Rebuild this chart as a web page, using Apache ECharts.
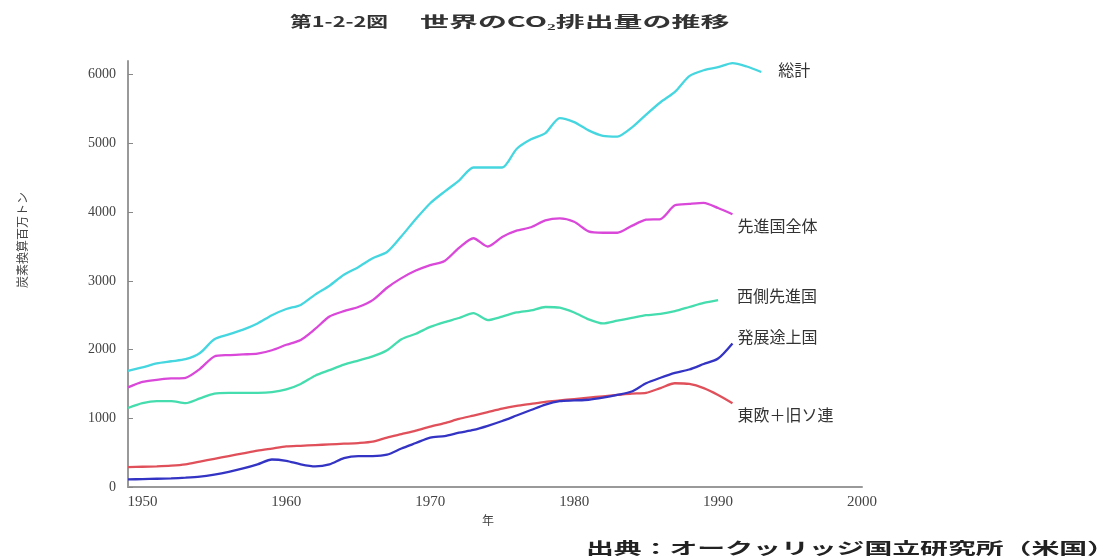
<!DOCTYPE html>
<html>
<head>
<meta charset="utf-8">
<script src="https://cdn.jsdelivr.net/npm/echarts@6/dist/echarts.min.js"></script>
<style>
html,body{margin:0;padding:0;background:#fff;}
#chart{width:1107px;height:558px;}
</style>
</head>
<body>
<div id="chart"></div>
<script>
// ---- data (million tonnes of carbon) ----
var startYear = 1949;
var seriesNames = ['総計', '先進国全体', '西側先進国', '発展途上国', '東欧＋旧ソ連'];
var xTickLabels = [1950, 1960, 1970, 1980, 1990, 2000];
var yTickLabels = [0, 1000, 2000, 3000, 4000, 5000, 6000];

var total = [1690, 1740, 1800, 1830, 1860, 1950, 2150, 2220, 2290, 2380, 2500,
  2590, 2650, 2800, 2930, 3090, 3200, 3330, 3420, 3650, 3900,
  4130, 4300, 4460, 4650, 4650, 4650, 4920, 5060, 5150, 5370,
  5310, 5190, 5110, 5100, 5230, 5420, 5600, 5750, 5980, 6065,
  6110, 6170, 6120, 6040];
var developedAll = [1450, 1530, 1560, 1580, 1590, 1720, 1900, 1920, 1930, 1940, 1990,
  2070, 2140, 2300, 2480, 2560, 2620, 2720, 2900, 3040, 3150,
  3230, 3290, 3480, 3620, 3500, 3640, 3730, 3780, 3880, 3910,
  3860, 3720, 3700, 3700, 3800, 3890, 3900, 4100, 4120, 4135,
  4060, 3970];
var western = [1150, 1220, 1250, 1250, 1220, 1290, 1360, 1370, 1370, 1370, 1380,
  1420, 1500, 1620, 1700, 1780, 1840, 1900, 1990, 2150, 2230,
  2330, 2400, 2460, 2530, 2430, 2480, 2540, 2570, 2620, 2610,
  2540, 2440, 2380, 2420, 2460, 2500, 2520, 2560, 2620, 2680,
  2720];
var developing = [110, 115, 120, 125, 135, 150, 180, 220, 270, 330, 400,
  380, 330, 300, 330, 420, 450, 450, 470, 560, 640,
  720, 740, 790, 830, 890, 960, 1040, 1120, 1200, 1250,
  1260, 1270, 1300, 1340, 1390, 1510, 1590, 1660, 1710, 1790,
  1870, 2090];
var eastUssr = [290, 295, 300, 310, 330, 370, 410, 450, 490, 530, 560,
  590, 600, 610, 620, 630, 640, 660, 720, 770, 820,
  880, 930, 990, 1040, 1090, 1140, 1180, 1210, 1240, 1260,
  1280, 1300, 1320, 1340, 1360, 1370, 1440, 1510, 1500, 1440,
  1340, 1220];

function pairs(arr) {
  return arr.map(function (v, i) { return [startYear + i, v]; });
}

var colors = ['#45d6e0', '#d948d9', '#45dcae', '#3434c4', '#e0505a'];
var valueSets = [total, developedAll, western, developing, eastUssr];
var labelOffsets = [[12, -2], [0, 12], [14, -4], [0, -6], [0, 12]];

var chart = echarts.init(document.getElementById('chart'), null, {renderer: 'canvas'});

var series = valueSets.map(function (vals, k) {
  return {
    name: seriesNames[k],
    type: 'line',
    data: pairs(vals),
    symbol: 'none',
    smooth: 0.25,
    lineStyle: {color: colors[k], width: 2.3},
    itemStyle: {color: colors[k]},
    endLabel: {
      show: true,
      formatter: function (p) { return p.seriesName; },
      offset: labelOffsets[k],
      distance: 5,
      color: '#333',
      fontSize: 16,
      fontFamily: 'Noto Sans CJK JP'
    },
    z: 5 - k
  };
});

var cjk = 'Noto Sans CJK JP';

chart.setOption({
  backgroundColor: '#ffffff',
  animation: false,
  grid: {left: 128, right: 245, top: 61, bottom: 71, containLabel: false},
  xAxis: {
    type: 'value',
    min: startYear,
    max: 2000,
    interval: 1,
    axisLine: {show: true, lineStyle: {color: '#999', width: 2}},
    axisTick: {show: false},
    splitLine: {show: false},
    axisLabel: {
      margin: 8,
      color: '#444',
      fontSize: 15,
      fontFamily: 'Liberation Serif',
      formatter: function (v) { return xTickLabels.indexOf(v) >= 0 ? String(v) : ''; }
    }
  },
  yAxis: {
    type: 'value',
    min: 0,
    max: 6200,
    interval: 200,
    axisLine: {show: true, lineStyle: {color: '#999', width: 2}},
    axisTick: {show: true, inside: true, length: 5, lineStyle: {color: '#888'}, customValues: yTickLabels},
    splitLine: {show: false},
    axisLabel: {
      margin: 12,
      color: '#444',
      fontSize: 14,
      fontFamily: 'Liberation Serif',
      customValues: yTickLabels,
      formatter: function (v) { return yTickLabels.indexOf(v) >= 0 ? String(v) : ''; }
    }
  },
  graphic: [
    {
      type: 'text',
      x: 290, y: 21, scaleX: 1.45,
      style: {text: '第1-2-2図', fontSize: 15, fontWeight: 'bold', fill: '#333', align: 'left', verticalAlign: 'middle', fontFamily: cjk}
    },
    {
      type: 'text',
      x: 420, y: 21, scaleX: 1.93,
      style: {text: '世界のCO₂排出量の推移', fontSize: 15, fontWeight: 'bold', fill: '#333', align: 'left', verticalAlign: 'middle', fontFamily: cjk}
    },
    {
      type: 'text',
      x: 22, y: 240,
      rotation: Math.PI / 2,
      style: {text: '炭素換算百万トン', fontSize: 12, fill: '#444', align: 'center', verticalAlign: 'middle', fontFamily: cjk}
    },
    {
      type: 'text',
      x: 488, y: 520,
      style: {text: '年', fontSize: 12, fill: '#444', align: 'center', verticalAlign: 'middle', fontFamily: cjk}
    },
    {
      type: 'text',
      x: 586, y: 548, scaleX: 1.74,
      style: {text: '出典：オークッリッジ国立研究所（米国）', fontSize: 16, fontWeight: 'bold', fill: '#222', align: 'left', verticalAlign: 'middle', fontFamily: cjk}
    }
  ],
  series: series
});
</script>
</body>
</html>
